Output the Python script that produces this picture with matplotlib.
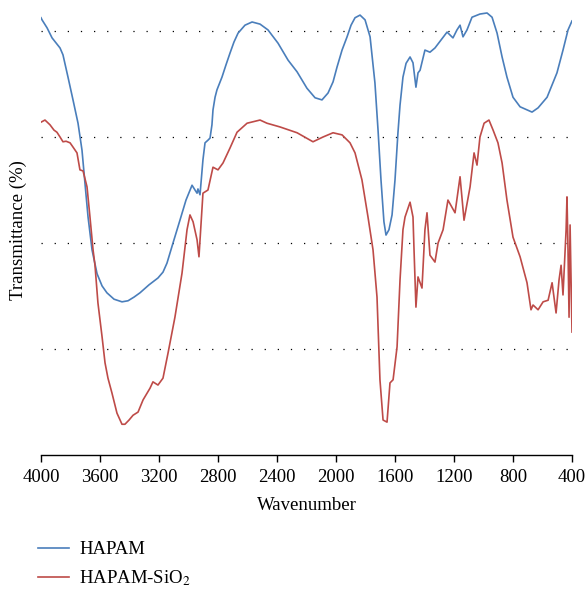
import matplotlib
matplotlib.use("Agg")
import matplotlib.pyplot as plt

plt.rcParams['font.family'] = ['Liberation Serif', 'DejaVu Serif']
plt.rcParams['mathtext.fontset'] = 'stix'

hapam_wn = [4000, 3993, 3959, 3925, 3871, 3851, 3817, 3783, 3749, 3722, 3702, 3681, 3654, 3620, 3586,
            3553, 3505, 3451, 3410, 3369, 3329, 3268, 3207, 3173, 3146, 3105, 3058, 3017, 2976, 2956,
            2942, 2936, 2922, 2902, 2888, 2868, 2854, 2841, 2834, 2820, 2807, 2773, 2746, 2719, 2692,
            2664, 2617, 2569, 2515, 2461, 2393, 2325, 2264, 2197, 2142, 2095, 2054, 2020, 1993, 1959,
            1925, 1898, 1871, 1837, 1803, 1769, 1736, 1715, 1695, 1675, 1661, 1641, 1620, 1600, 1580,
            1566, 1546, 1525, 1498, 1478, 1458, 1444, 1430, 1397, 1363, 1329, 1288, 1247, 1207, 1180,
            1159, 1139, 1112, 1078, 1024, 976, 942, 908, 874, 841, 800, 752, 671, 630, 569,
            502, 461, 427, 400]
hapam_t = [82.5, 82.1, 80.6, 78.7, 76.8, 75.5, 71.3, 67.0, 62.6, 57.5, 51.3, 44.9, 38.7, 34.2, 31.9,
           30.6, 29.4, 28.9, 29.1, 29.8, 30.6, 32.1, 33.4, 34.5, 36.2, 40.0, 44.3, 48.1, 50.9, 50.0,
           49.4, 50.2, 49.1, 55.7, 58.9, 59.4, 59.8, 62.3, 65.1, 67.5, 68.9, 71.3, 73.6, 75.8, 77.9,
           79.6, 81.1, 81.7, 81.3, 80.2, 77.7, 74.5, 72.3, 69.2, 67.4, 67.0, 68.3, 70.4, 73.2, 76.4,
           78.9, 81.1, 82.5, 83.0, 82.1, 78.9, 70.2, 61.3, 51.9, 44.0, 41.5, 42.5, 45.3, 51.9, 60.8,
           66.0, 71.3, 73.9, 75.1, 74.0, 69.4, 72.1, 72.6, 76.4, 76.0, 76.8, 78.3, 79.8, 78.7, 80.2,
           81.1, 78.9, 80.2, 82.6, 83.2, 83.4, 82.6, 79.6, 75.1, 71.3, 67.5, 65.7, 64.7, 65.5, 67.5,
           72.1, 76.4, 80.2, 81.9]

sio2_wn = [4000, 3973, 3939, 3912, 3892, 3871, 3851, 3830, 3803, 3783, 3756, 3736, 3715, 3688, 3668,
           3647, 3634, 3614, 3586, 3566, 3546, 3519, 3485, 3451, 3431, 3403, 3376, 3342, 3308, 3261,
           3241, 3207, 3173, 3139, 3092, 3044, 3010, 2990, 2969, 2942, 2929, 2902, 2868, 2834, 2800,
           2766, 2719, 2671, 2603, 2515, 2468, 2380, 2264, 2156, 2088, 2020, 1959, 1905, 1871, 1824,
           1783, 1749, 1722, 1702, 1681, 1654, 1634, 1613, 1586, 1566, 1546, 1532, 1498, 1478, 1471,
           1458, 1444, 1417, 1397, 1383, 1363, 1329, 1308, 1274, 1241, 1193, 1159, 1132, 1091, 1064,
           1044, 1024, 996, 963, 935, 902, 874, 841, 800, 752, 705, 678, 664, 630, 596,
           562, 535, 508, 488, 474, 461, 440, 434, 427, 420, 413, 400]
sio2_t = [62.8, 63.2, 62.3, 61.3, 60.9, 60.0, 59.1, 59.2, 58.9, 58.1, 57.0, 53.8, 53.6, 50.6, 44.9,
          38.7, 35.8, 28.7, 22.3, 17.4, 14.5, 11.7, 7.9, 5.8, 5.8, 6.6, 7.5, 8.1, 10.4, 12.6,
          13.8, 13.2, 14.5, 19.2, 26.0, 34.3, 42.5, 45.3, 44.0, 40.6, 37.4, 49.4, 50.0, 54.3, 53.8,
          55.1, 57.9, 60.9, 62.6, 63.2, 62.6, 61.9, 60.8, 59.1, 60.0, 60.8, 60.4, 58.9, 57.0, 51.9,
          44.9, 38.7, 29.8, 14.2, 6.6, 6.2, 13.6, 14.2, 20.4, 33.0, 42.5, 44.9, 47.7, 44.9, 38.7,
          27.9, 33.6, 31.5, 42.5, 45.7, 37.7, 36.4, 40.0, 42.5, 48.1, 45.7, 52.5, 44.3, 50.6, 57.0,
          54.7, 60.0, 62.6, 63.2, 61.3, 58.9, 55.1, 48.1, 41.1, 37.4, 32.5, 27.4, 28.3, 27.4, 28.9,
          29.2, 32.5, 26.8, 33.0, 35.8, 30.2, 42.5, 48.7, 38.7, 26.0, 43.4, 23.2]

xticks = [4000, 3600, 3200, 2800, 2400, 2000, 1600, 1200, 800, 400]
gridvals = [20, 40, 60, 80]

fig = plt.figure(figsize=(5.87, 5.96), dpi=100)
ax = fig.add_axes([41/587, 1-455/596, (572-41)/587, (455-4.5)/596])

for g in gridvals:
    ax.axhline(g, color='black', lw=0.9, linestyle=(0, (1, 9.5)), zorder=0)

l1, = ax.plot(hapam_wn, hapam_t, color='#4a7ebb', lw=1.2, label='HAPAM')
l2, = ax.plot(sio2_wn, sio2_t, color='#be4b48', lw=1.2, label='HAPAM-SiO$_2$')

ax.set_xlim(4000, 400)
ax.set_ylim(0, 85)
ax.set_xticks(xticks)
ax.set_xticklabels([str(v) for v in xticks], fontsize=13.5)
ax.set_yticks([])
for s in ['left', 'right', 'top']:
    ax.spines[s].set_visible(False)
ax.spines['bottom'].set_linewidth(1.0)
ax.tick_params(axis='x', direction='out', length=5, width=1.0, pad=5)
ax.set_xlabel('Wavenumber', fontsize=13.5, labelpad=8)
ax.set_ylabel('Transmittance (%)', fontsize=13.5, labelpad=10)

fig.legend(handles=[l1, l2], loc='upper left', bbox_to_anchor=(38/587, 1-541/596),
           frameon=False, fontsize=13.5, handlelength=1.65, handletextpad=0.55,
           labelspacing=0.55, borderpad=0, borderaxespad=0)

fig.savefig('out.png', dpi=100)
